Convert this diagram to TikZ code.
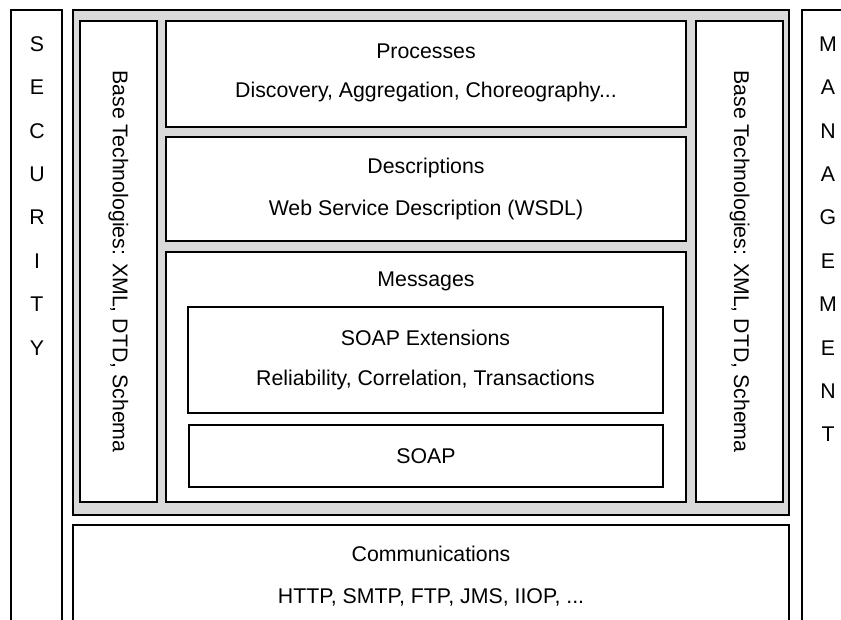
\documentclass[tikz,border=0pt]{standalone}
\usepackage{fontspec}
\setmainfont{Liberation Sans}
\definecolor{framegray}{RGB}{217,217,217}

\begin{document}
\begin{tikzpicture}[x=1pt, y=-1pt]
\tikzset{box/.style={draw, line width=1.5pt, fill=white, inner sep=0pt}}
\tikzset{lbl/.style={font=\fontsize{21.3}{24}\selectfont, inner sep=0pt}}
\tikzset{vlbl/.style={lbl, rotate=-90}}
\useasboundingbox (0,0) rectangle (841,619);
\clip (0,0) rectangle (841,619);
% side columns
\node[box, minimum width=51pt, minimum height=640pt] (security) at (36.5,330) {};
\node[box, minimum width=70pt, minimum height=640pt] (management) at (837,330) {};
\foreach \ch [count=\i] in {S,E,C,U,R,I,T,Y}
  \node[lbl] (sec\i) at (37,{44+43.4*(\i-1)}) {\ch};
\foreach \ch [count=\i] in {M,A,N,A,G,E,M,E,N,T}
  \node[lbl] (mgt\i) at (828,{44+43.4*(\i-1)}) {\ch};
% grey frame
\node[box, fill=framegray, minimum width=716pt, minimum height=505pt] (frame) at (431,262.5) {};
\node[box, minimum width=77pt, minimum height=481pt] (baseL) at (118.5,261.5) {};
\node[box, minimum width=87pt, minimum height=481pt] (baseR) at (739.5,261.5) {};
\node[vlbl] (baseLtxt) at (baseL) {Base Technologies: XML, DTD, Schema};
\node[vlbl] (baseRtxt) at (baseR) {Base Technologies: XML, DTD, Schema};
% stack
\node[box, minimum width=520pt, minimum height=106pt] (proc) at (426,74) {};
\node[box, minimum width=520pt, minimum height=104pt] (desc) at (426,189) {};
\node[box, minimum width=520pt, minimum height=250pt] (msg) at (426,377) {};
\node[box, minimum width=475pt, minimum height=106pt] (soapx) at (425.5,360) {};
\node[box, minimum width=474pt, minimum height=62pt] (soap) at (426,456) {};
\node[lbl] (proct) at (426,51) {Processes};
\node[lbl] (procs) at (426,92) {Discovery, Aggregation, Choreography...};
\node[lbl] (desct) at (426,168) {Descriptions};
\node[lbl] (descs) at (426,210) {Web Service Description (WSDL)};
\node[lbl] (msgt) at (426,281) {Messages};
\node[lbl] (soapxt) at (425.5,338) {SOAP Extensions};
\node[lbl] (soapxs) at (425.5,380) {Reliability, Correlation, Transactions};
\node[lbl] (soapt) at (soap) {SOAP};
% bottom
\node[box, minimum width=716pt, minimum height=120pt] (comm) at (431,585) {};
\node[lbl] (commt) at (431,554) {Communications};
\node[lbl] (comms) at (431,597) {HTTP, SMTP, FTP, JMS, IIOP, ...};
\end{tikzpicture}
\end{document}
